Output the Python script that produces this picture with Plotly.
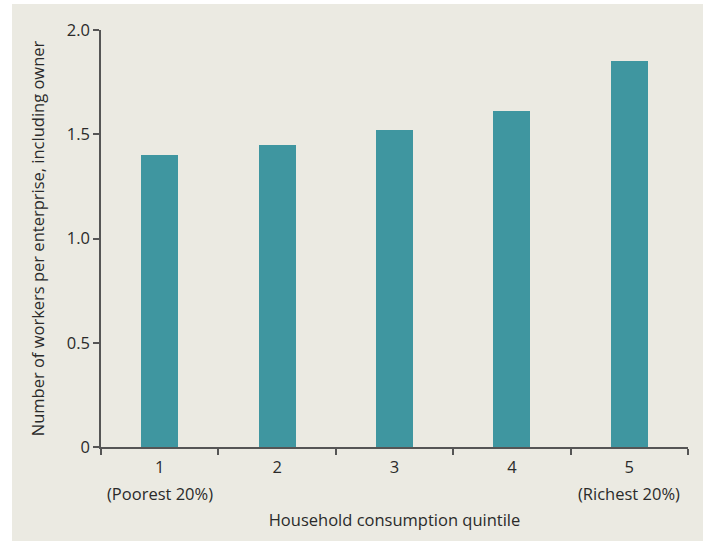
import plotly.graph_objects as go

categories = ["1", "2", "3", "4", "5"]
values = [1.40, 1.45, 1.52, 1.61, 1.85]
sub_labels = [(0, "(Poorest 20%)"), (4, "(Richest 20%)")]
y_tickvals = [0, 0.5, 1.0, 1.5, 2.0]
y_ticktext = ["0", "0.5", "1.0", "1.5", "2.0"]

BG = "#EBEAE2"
BAR = "#3F96A0"
AX = "#555555"
TXT = "#2A2A2A"
FONT = "Open Sans"
FS = 16.5

W, H = 703, 541
ML, MR, MT, MB = 101, W - 688, 30, H - 447
PW, PH = W - ML - MR, H - MT - MB


def px_x(px):
    return (px - ML) / PW


def px_y(py):
    return (H - MB - py) / PH


fig = go.Figure()
fig.add_trace(go.Bar(x=categories, y=values, marker=dict(color=BAR, line=dict(width=0)),
                     width=0.315, hoverinfo="x+y"))

# thin white strips at left and top of the beige panel
fig.add_shape(type="rect", xref="paper", yref="paper", layer="below",
              x0=px_x(-2), x1=px_x(12), y0=px_y(H + 2), y1=px_y(-2),
              fillcolor="white", line=dict(width=0))
fig.add_shape(type="rect", xref="paper", yref="paper", layer="below",
              x0=px_x(-2), x1=px_x(W + 2), y0=px_y(4), y1=px_y(-2),
              fillcolor="white", line=dict(width=0))

for idx, lab in sub_labels:
    fig.add_annotation(x=idx, xref="x", y=px_y(493), yref="paper",
                       text=lab, showarrow=False, yanchor="middle",
                       font=dict(family=FONT, size=FS, color=TXT))

fig.update_layout(
    width=W, height=H,
    margin=dict(l=ML, r=MR, t=MT, b=MB),
    paper_bgcolor=BG, plot_bgcolor=BG,
    showlegend=False, bargap=0,
    font=dict(family=FONT, size=FS, color=TXT),
    xaxis=dict(
        type="category", range=[-0.5, 4.5], automargin=False,
        showgrid=False, zeroline=False,
        showline=True, linecolor=AX, linewidth=1.5,
        ticks="outside", tickson="boundaries", ticklen=6, tickcolor=AX, tickwidth=1.5,
        ticklabelstandoff=4,
        tickfont=dict(family=FONT, size=FS, color=TXT),
        title=dict(text="Household consumption quintile", standoff=38,
                   font=dict(family=FONT, size=FS, color=TXT)),
    ),
    yaxis=dict(
        range=[0, 2.0], automargin=False, showgrid=False, zeroline=False,
        showline=True, linecolor=AX, linewidth=1.5,
        ticks="outside", ticklen=6, tickcolor=AX, tickwidth=1.5,
        tickvals=y_tickvals, ticktext=y_ticktext,
        tickfont=dict(family=FONT, size=FS, color=TXT),
        title=dict(text="Number of workers per enterprise, including owner",
                   font=dict(family=FONT, size=FS, color=TXT), standoff=18),
    ),
)

fig.write_html("out.html", config={"displayModeBar": False},
               post_script="document.body.style.margin='0';")
